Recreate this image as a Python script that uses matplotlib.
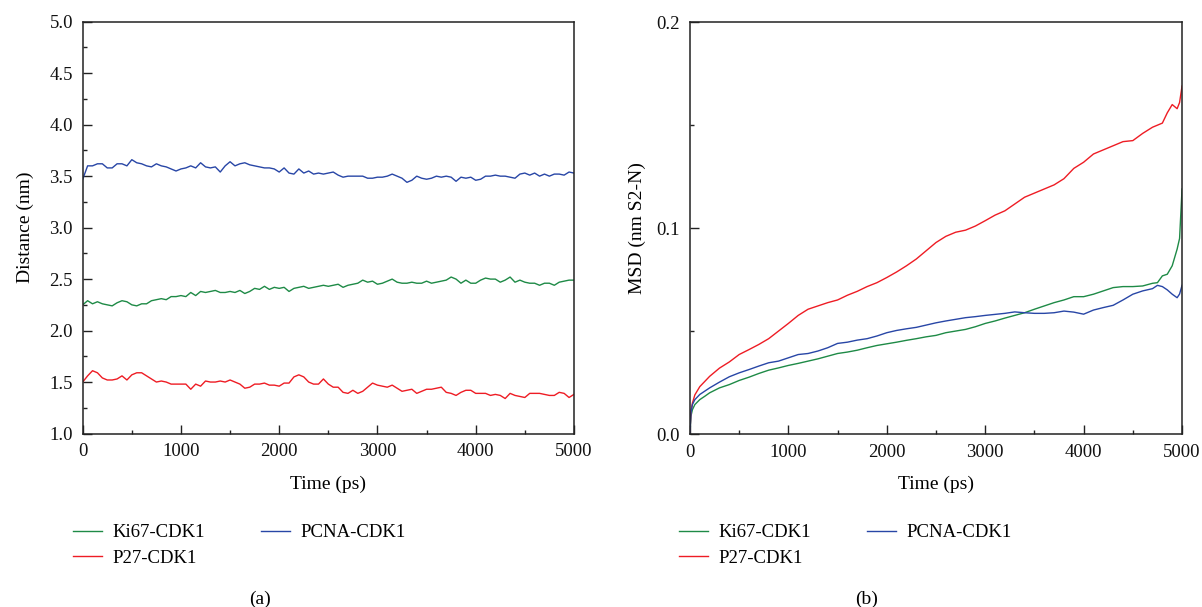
import matplotlib
matplotlib.use("Agg")
import matplotlib.pyplot as plt
from matplotlib.ticker import MultipleLocator

plt.rcParams['font.family'] = ['Liberation Serif', 'DejaVu Serif']
plt.rcParams['font.size'] = 13

# ---------------- data: panel (a) distance ----------------
dist_time = list(range(0, 5001, 50))
dist_ki67 = [2.25, 2.29, 2.26, 2.28, 2.26, 2.25, 2.24, 2.27, 2.29, 2.28,
             2.25, 2.24, 2.26, 2.26, 2.29, 2.30, 2.31, 2.30, 2.33, 2.33,
             2.34, 2.33, 2.37, 2.34, 2.38, 2.37, 2.38, 2.39, 2.37, 2.37,
             2.38, 2.37, 2.39, 2.36, 2.38, 2.41, 2.40, 2.43, 2.40, 2.42,
             2.41, 2.42, 2.38, 2.41, 2.42, 2.43, 2.41, 2.42, 2.43, 2.44,
             2.43, 2.44, 2.45, 2.42, 2.44, 2.45, 2.46, 2.49, 2.47, 2.48,
             2.45, 2.46, 2.48, 2.50, 2.47, 2.46, 2.46, 2.47, 2.46, 2.46,
             2.48, 2.46, 2.47, 2.48, 2.49, 2.52, 2.50, 2.46, 2.49, 2.46,
             2.46, 2.49, 2.51, 2.50, 2.50, 2.47, 2.49, 2.52, 2.47, 2.49,
             2.47, 2.46, 2.46, 2.44, 2.46, 2.46, 2.44, 2.47, 2.48, 2.49,
             2.49]
dist_p27 = [1.50, 1.56, 1.61, 1.59, 1.54, 1.52, 1.52, 1.53, 1.56, 1.52,
            1.57, 1.59, 1.59, 1.56, 1.53, 1.50, 1.51, 1.50, 1.48, 1.48,
            1.48, 1.48, 1.43, 1.48, 1.46, 1.51, 1.50, 1.50, 1.51, 1.50,
            1.52, 1.50, 1.48, 1.44, 1.45, 1.48, 1.48, 1.49, 1.47, 1.47,
            1.46, 1.49, 1.49, 1.55, 1.57, 1.55, 1.50, 1.48, 1.48, 1.53,
            1.48, 1.45, 1.45, 1.40, 1.39, 1.42, 1.39, 1.41, 1.45, 1.49,
            1.47, 1.46, 1.45, 1.47, 1.44, 1.41, 1.42, 1.43, 1.39, 1.41,
            1.43, 1.43, 1.44, 1.45, 1.40, 1.39, 1.37, 1.40, 1.42, 1.42,
            1.39, 1.39, 1.39, 1.37, 1.38, 1.37, 1.34, 1.39, 1.37, 1.36,
            1.35, 1.39, 1.39, 1.39, 1.38, 1.37, 1.37, 1.40, 1.39, 1.35,
            1.38]
dist_pcna = [3.47, 3.60, 3.60, 3.62, 3.62, 3.58, 3.58, 3.62, 3.62, 3.60,
             3.66, 3.63, 3.62, 3.60, 3.59, 3.62, 3.60, 3.59, 3.57, 3.55,
             3.57, 3.58, 3.60, 3.58, 3.63, 3.59, 3.58, 3.59, 3.54, 3.60,
             3.64, 3.60, 3.62, 3.63, 3.61, 3.60, 3.59, 3.58, 3.58, 3.57,
             3.54, 3.58, 3.53, 3.52, 3.57, 3.53, 3.55, 3.52, 3.53, 3.52,
             3.53, 3.54, 3.51, 3.49, 3.50, 3.50, 3.50, 3.50, 3.48, 3.48,
             3.49, 3.49, 3.50, 3.52, 3.50, 3.48, 3.44, 3.46, 3.50, 3.48,
             3.47, 3.48, 3.50, 3.49, 3.50, 3.49, 3.45, 3.49, 3.48, 3.49,
             3.46, 3.47, 3.50, 3.50, 3.51, 3.50, 3.50, 3.49, 3.48, 3.52,
             3.53, 3.51, 3.53, 3.50, 3.52, 3.50, 3.52, 3.52, 3.51, 3.54,
             3.53]

# ---------------- data: panel (b) MSD ----------------
msd_time = ([0, 10, 25, 50, 100, 150, 200] + list(range(300, 4701, 100))
            + [4750, 4800, 4850, 4900, 4950, 4975, 5000])
msd_ki67 = [0.0, 0.0086, 0.0118, 0.0143, 0.0167, 0.0183, 0.0200,
            0.0224, 0.0240, 0.0260, 0.0276, 0.0294, 0.0310, 0.0321, 0.0333,
            0.0343, 0.0354, 0.0365, 0.0378, 0.0391, 0.0398, 0.0407, 0.0419, 0.0430, 0.0438,
            0.0446, 0.0455, 0.0463, 0.0472, 0.0479, 0.0492, 0.0500, 0.0508, 0.0521, 0.0537,
            0.0549, 0.0563, 0.0576, 0.0589, 0.0606, 0.0622, 0.0638, 0.0651, 0.0667, 0.0667,
            0.0679, 0.0695, 0.0711, 0.0716, 0.0716, 0.0719, 0.0732,
            0.0735, 0.0768, 0.0776, 0.0817, 0.0898, 0.0950, 0.1190]
msd_p27 = [0.0, 0.0110, 0.0150, 0.0190, 0.0230, 0.0255, 0.0280,
           0.0320, 0.0350, 0.0386, 0.0410, 0.0435, 0.0463, 0.0500, 0.0537,
           0.0576, 0.0606, 0.0622, 0.0638, 0.0651, 0.0674, 0.0693, 0.0716, 0.0735, 0.0760,
           0.0787, 0.0817, 0.0850, 0.0890, 0.0930, 0.0960, 0.0980, 0.0990, 0.1010, 0.1036,
           0.1063, 0.1084, 0.1117, 0.1150, 0.1170, 0.1190, 0.1210, 0.1240, 0.1290, 0.1320,
           0.1360, 0.1380, 0.1400, 0.1420, 0.1425, 0.1460, 0.1490,
           0.1500, 0.1510, 0.1560, 0.1600, 0.1580, 0.1610, 0.1690]
msd_pcna = [0.0, 0.0102, 0.0143, 0.0167, 0.0192, 0.0208, 0.0224,
            0.0252, 0.0278, 0.0297, 0.0313, 0.0330, 0.0346, 0.0354, 0.0370,
            0.0386, 0.0391, 0.0403, 0.0419, 0.0440, 0.0446, 0.0456, 0.0463, 0.0476, 0.0492,
            0.0503, 0.0511, 0.0518, 0.0529, 0.0540, 0.0549, 0.0557, 0.0565, 0.0570, 0.0576,
            0.0581, 0.0586, 0.0593, 0.0589, 0.0586, 0.0586, 0.0589, 0.0597, 0.0592, 0.0582,
            0.0602, 0.0614, 0.0625, 0.0651, 0.0679, 0.0695, 0.0706,
            0.0722, 0.0716, 0.0700, 0.0679, 0.0662, 0.0680, 0.0722]

series_labels = ["Ki67-CDK1", "P27-CDK1", "PCNA-CDK1"]
colors = ["#1e8a46", "#ee1c24", "#2846a6"]

fig = plt.figure(figsize=(12.02, 6.07), dpi=100)
ax1 = fig.add_axes([0.0688, 0.2858, 0.4087, 0.6784])
ax2 = fig.add_axes([0.5740, 0.2850, 0.4094, 0.6784])


def style(ax):
    for s in ax.spines.values():
        s.set_linewidth(1.1)
        s.set_color("#222222")
    ax.tick_params(which="major", direction="in", length=6.5, width=1.0,
                   labelsize=13.5, pad=7, colors="#222222")
    ax.tick_params(which="minor", direction="in", length=3.2, width=1.0,
                   colors="#222222")
    ax.tick_params(labelcolor="#111111")


# panel (a)
for y, c, lab in zip([dist_ki67, dist_p27, dist_pcna], colors, series_labels):
    ax1.plot(dist_time, y, color=c, lw=1.0, label=lab)
ax1.set_xlim(0, 5000)
ax1.set_ylim(1.0, 5.0)
ax1.xaxis.set_major_locator(MultipleLocator(1000))
ax1.xaxis.set_minor_locator(MultipleLocator(500))
ax1.yaxis.set_major_locator(MultipleLocator(0.5))
ax1.yaxis.set_minor_locator(MultipleLocator(0.25))
ax1.yaxis.set_major_formatter(plt.FormatStrFormatter("%.1f"))
ax1.set_xlabel("Time (ps)", fontsize=14, labelpad=11)
ax1.set_ylabel("Distance (nm)", fontsize=14, labelpad=11)
style(ax1)

# panel (b)
for y, c, lab in zip([msd_ki67, msd_p27, msd_pcna], colors, series_labels):
    ax2.plot(msd_time, y, color=c, lw=1.0, label=lab)
ax2.set_xlim(0, 5000)
ax2.set_ylim(0.0, 0.2)
ax2.xaxis.set_major_locator(MultipleLocator(1000))
ax2.xaxis.set_minor_locator(MultipleLocator(500))
ax2.yaxis.set_major_locator(MultipleLocator(0.1))
ax2.yaxis.set_minor_locator(MultipleLocator(0.05))
ax2.yaxis.set_major_formatter(plt.FormatStrFormatter("%.1f"))
ax2.set_xlabel("Time (ps)", fontsize=14, labelpad=11)
ax2.set_ylabel("MSD (nm S2-N)", fontsize=14, labelpad=8)
style(ax2)

for ax, lx, cap, cx in [(ax1, 73, "(a)", 260), (ax2, 679, "(b)", 867)]:
    h, l = ax.get_legend_handles_labels()
    fig.legend(h, l, ncol=2, loc="upper left",
               bbox_to_anchor=(lx / 1202, 1 - 524 / 607),
               frameon=False, fontsize=13.5, handlelength=1.55,
               handletextpad=0.55, columnspacing=3.0, labelspacing=0.45,
               borderpad=0, borderaxespad=0)
    fig.text(cx / 1202, 1 - 599 / 607, cap, ha="center", va="center", fontsize=14)

fig.savefig("out.png", dpi=100)
